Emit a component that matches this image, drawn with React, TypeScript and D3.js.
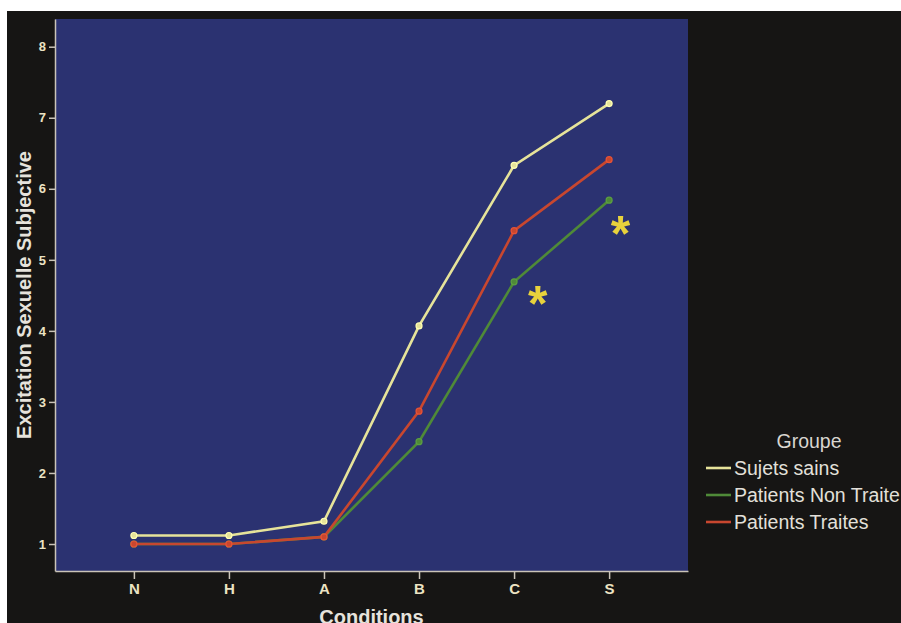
import { useRef, useEffect } from "react";
import * as d3 from "d3";

const conditions = ["N", "H", "A", "B", "C", "S"];
const sujetsSains = [1.12, 1.12, 1.32, 4.07, 6.33, 7.2];
const patientsNonTraites = [1.0, 1.0, 1.1, 2.44, 4.69, 5.84];
const patientsTraites = [1.0, 1.0, 1.1, 2.87, 5.41, 6.41];
const yTicks = [1, 2, 3, 4, 5, 6, 7, 8];
const groupNames = ["Sujets sains", "Patients Non Traite", "Patients Traites"];
const groupColors = ["#e6e39a", "#4f8a38", "#c8472f"];
// significance marks next to C and S (value = baseline of the glyph)
const stars = [
  { cond: "C", value: 4.14, shift: 0.25 },
  { cond: "S", value: 5.13, shift: 0.12 },
];

const FONT = "Liberation Sans, Arial, sans-serif";

export default function App() {
  const svgRef = useRef<SVGSVGElement>(null);
  const width = 901;
  const height = 623;

  useEffect(() => {
    const svg = d3.select(svgRef.current);
    svg.selectAll("*").remove();

    // photo-like white edges then black slide
    svg.append("rect").attr("width", width).attr("height", height).attr("fill", "#ffffff");
    svg
      .append("rect")
      .attr("x", 7)
      .attr("y", 11)
      .attr("width", width - 7)
      .attr("height", height - 11)
      .attr("fill", "#161514");

    const plot = { left: 55, top: 19, right: 688, bottom: 571 };

    const x = d3
      .scalePoint<string>()
      .domain(conditions)
      .range([plot.left, plot.right])
      .padding(0.83);

    const y = d3.scaleLinear().domain([0.62, 8.39]).range([plot.bottom, plot.top]);

    svg
      .append("rect")
      .attr("x", plot.left)
      .attr("y", plot.top)
      .attr("width", plot.right - plot.left)
      .attr("height", plot.bottom - plot.top)
      .attr("fill", "#2b3271");

    // axes
    const yAxis = d3
      .axisLeft(y)
      .tickValues(yTicks)
      .tickSizeInner(6)
      .tickSizeOuter(0)
      .tickPadding(3)
      .tickFormat(d3.format("d"));
    const gy = svg.append("g").attr("transform", `translate(${plot.left},0)`).call(yAxis);
    const xAxis = d3.axisBottom(x).tickSizeInner(8).tickSizeOuter(0).tickPadding(4);
    const gx = svg.append("g").attr("transform", `translate(0,${plot.bottom})`).call(xAxis);

    [gx, gy].forEach((g) => {
      g.select(".domain").attr("stroke", "#c9c3b8").attr("stroke-width", 1.5);
      g.selectAll(".tick line").attr("stroke", "#c9c3b8").attr("stroke-width", 1.5);
      g.selectAll(".tick text")
        .attr("fill", "#ece3c3")
        .attr("font-family", FONT)
        .attr("font-weight", "bold")
        .attr("font-size", 13);
    });
    gx.selectAll(".tick text").attr("font-size", 15);

    // axis titles
    svg
      .append("text")
      .attr("transform", `translate(31,${(plot.top + plot.bottom) / 2}) rotate(-90)`)
      .attr("text-anchor", "middle")
      .attr("fill", "#e6e3dc")
      .attr("font-family", FONT)
      .attr("font-weight", "bold")
      .attr("font-size", 20)
      .text("Excitation Sexuelle Subjective");

    svg
      .append("text")
      .attr("x", (plot.left + plot.right) / 2)
      .attr("y", 624)
      .attr("text-anchor", "middle")
      .attr("fill", "#e6e3dc")
      .attr("font-family", FONT)
      .attr("font-weight", "bold")
      .attr("font-size", 20)
      .text("Conditions");

    // lines
    const series = [sujetsSains, patientsNonTraites, patientsTraites];
    const line = d3
      .line<number>()
      .x((_, i) => x(conditions[i]) as number)
      .y((d) => y(d));

    // draw red and green first, yellow on top
    [1, 2, 0].forEach((si) => {
      const vals = series[si];
      svg
        .append("path")
        .attr("d", line(vals))
        .attr("fill", "none")
        .attr("stroke", groupColors[si])
        .attr("stroke-width", 2.6);
      svg
        .selectAll(null)
        .data(vals)
        .enter()
        .append("circle")
        .attr("cx", (_, i) => x(conditions[i]) as number)
        .attr("cy", (d) => y(d))
        .attr("r", 3)
        .attr("fill", groupColors[si])
        .attr("stroke", d3.color(groupColors[si])!.brighter(0.4).toString())
        .attr("stroke-width", 1.2);
    });

    // asterisks
    svg
      .selectAll(null)
      .data(stars)
      .enter()
      .append("text")
      .attr("x", (d) => (x(d.cond) as number) + d.shift * x.step())
      .attr("y", (d) => y(d.value))
      .attr("text-anchor", "middle")
      .attr("fill", "#e8d23c")
      .attr("font-family", FONT)
      .attr("font-weight", "bold")
      .attr("font-size", 50)
      .text("*");

    // legend
    const lg = svg.append("g").attr("transform", "translate(706,441)");
    lg.append("text")
      .attr("x", 103)
      .attr("y", 7)
      .attr("text-anchor", "middle")
      .attr("fill", "#d9d6d0")
      .attr("font-family", FONT)
      .attr("font-size", 19.5)
      .text("Groupe");
    groupNames.forEach((name, i) => {
      const gy2 = 27 + i * 27;
      lg.append("line")
        .attr("x1", 0)
        .attr("x2", 25)
        .attr("y1", gy2)
        .attr("y2", gy2)
        .attr("stroke", groupColors[i])
        .attr("stroke-width", 2.6);
      lg.append("text")
        .attr("x", 28)
        .attr("y", gy2 + 7)
        .attr("fill", "#e3e0da")
        .attr("font-family", FONT)
        .attr("font-size", 19.5)
        .text(name);
    });
  }, []);

  return (
    <svg
      ref={svgRef}
      width={width}
      height={height}
      style={{ position: "absolute", left: 0, top: 0, display: "block" }}
    />
  );
}
